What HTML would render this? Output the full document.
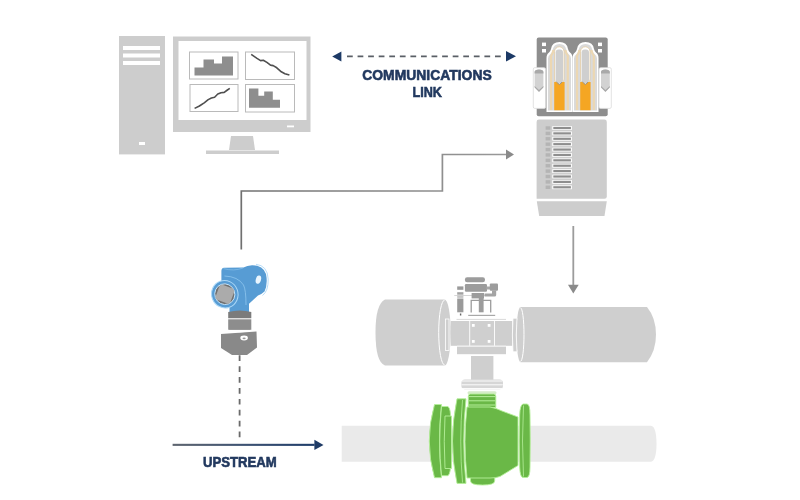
<!DOCTYPE html>
<html><head><meta charset="utf-8">
<style>
html,body{margin:0;padding:0;background:#fff;width:800px;height:500px;overflow:hidden}
svg{display:block;filter:blur(0.45px)}
text{font-family:"Liberation Sans",sans-serif;font-weight:bold}
</style></head>
<body>
<svg width="800" height="500" viewBox="0 0 800 500">
<rect width="800" height="500" fill="#fff"/>

<!-- ===== Computer tower ===== -->
<rect x="119" y="36" width="46" height="118.4" fill="#cdcdcd"/>
<rect x="123" y="46" width="37" height="4" fill="#fff"/>
<rect x="123" y="53.5" width="37" height="4" fill="#fff"/>
<rect x="123" y="61" width="37" height="4" fill="#fff"/>
<rect x="139" y="142" width="6" height="3" fill="#fff"/>

<!-- ===== Monitor ===== -->
<rect x="173" y="36.5" width="137.5" height="95.5" fill="#cdcdcd"/>
<rect x="178.5" y="41" width="128" height="79" fill="#fff"/>
<rect x="287" y="125.5" width="7" height="1.8" fill="#fff"/>
<polygon points="231,136 253,136 255,150 229,150" fill="#cdcdcd"/>
<rect x="206" y="150.5" width="73" height="3.5" fill="#cdcdcd"/>

<!-- chart panels -->
<g fill="none" stroke="#bababa" stroke-width="1">
<rect x="189.5" y="52" width="48.5" height="27"/>
<rect x="245.5" y="52" width="49" height="27.5"/>
<rect x="190" y="84.5" width="48" height="27"/>
<rect x="245.5" y="84.5" width="49" height="27.5"/>
</g>
<polygon fill="#8e8e8e" points="194.5,75.5 194.5,67.5 203.5,67.5 203.5,59.5 214,59.5 214,63.5 222,63.5 222,56.5 233,56.5 233,75.5"/>
<polygon fill="#8e8e8e" points="249,107.8 249,88.5 258.4,88.5 258.4,95.7 264.2,95.7 264.2,91.6 272.8,91.6 272.8,99.8 280,99.8 280,107.8"/>
<polyline fill="none" stroke="#4f4f4f" stroke-width="1.6" stroke-linejoin="round" points="251.2,54.3 257,58.4 260.6,60.6 263.3,60.2 266.9,62.4 270.5,65.1 273.2,65.6 276.8,67.8 281.3,71.8 284.9,73.7 289.4,75"/>
<polyline fill="none" stroke="#4f4f4f" stroke-width="1.6" stroke-linejoin="round" points="194.6,108.4 199.4,106 204.2,102.8 208.2,99.6 211.4,98 214.6,97.2 217.8,94 221,92.7 224.2,92.4 227.4,90 229.8,88.4"/>

<!-- ===== Communications link ===== -->
<line x1="347" y1="56.4" x2="501" y2="56.4" stroke="#5a5f66" stroke-width="1.7" stroke-dasharray="5.75,4.82"/>
<polygon points="332.2,56.5 341.4,51.4 341.4,61.6" fill="#1d3a66"/>
<polygon points="516,56.3 506,51 506,61.6" fill="#1d3a66"/>
<text x="427" y="79.6" text-anchor="middle" font-size="14.8" fill="#22395f" stroke="#22395f" stroke-width="0.6" textLength="129.5" lengthAdjust="spacingAndGlyphs">COMMUNICATIONS</text>
<text x="427.2" y="97.4" text-anchor="middle" font-size="14.8" fill="#22395f" stroke="#22395f" stroke-width="0.6" textLength="29.5" lengthAdjust="spacingAndGlyphs">LINK</text>

<!-- ===== Controller ===== -->
<rect x="536.7" y="37.6" width="71" height="78.6" rx="2" fill="#8e8e8e"/>
<rect x="542" y="42.6" width="4" height="3.5" fill="#fff"/>
<rect x="542" y="49" width="4" height="3.5" fill="#fff"/>
<rect x="598" y="42.6" width="4" height="3.5" fill="#fff"/>
<rect x="598" y="49" width="4" height="3.5" fill="#fff"/>
<!-- side tabs -->
<rect x="533.3" y="67.7" width="12.3" height="40.7" rx="1.5" fill="#fff" stroke="#dadada" stroke-width="0.8"/>
<path d="M534.6,72 Q534.6,69.4 539,69.4 Q543.4,69.4 543.4,72 V87 L539,91.5 L534.6,87Z" fill="#d2d2d2"/>
<path d="M534.6,72 Q534.6,69.4 539,69.4 Q543.4,69.4 543.4,72 V73.5 H534.6Z" fill="#a9a9a9"/>
<path d="M534.6,86 L539,90 L543.4,86 V87.5 L539,92 L534.6,87.5Z" fill="#a9a9a9"/>
<rect x="599" y="67.7" width="12.3" height="40.7" rx="1.5" fill="#fff" stroke="#dadada" stroke-width="0.8"/>
<path d="M601,72 Q601,69.4 605.4,69.4 Q609.8,69.4 609.8,72 V87 L605.4,91.5 L601,87Z" fill="#d2d2d2"/>
<path d="M601,72 Q601,69.4 605.4,69.4 Q609.8,69.4 609.8,72 V73.5 H601Z" fill="#a9a9a9"/>
<path d="M601,86 L605.4,90 L609.8,86 V87.5 L605.4,92 L601,87.5Z" fill="#a9a9a9"/>
<!-- modules -->
<path d="M546.50,112 V58 Q546.50,54 549.00,52.5 Q550.50,51 551.00,49 Q552.00,42 559.50,42 Q567.00,42 568.00,49 Q568.50,51 570.00,52.5 Q572.50,54 572.50,58 V112 Z" fill="#fff"/>
<path d="M548.00,110.5 V58.5 Q548.00,55.5 550.50,54 Q552.30,52.6 552.70,50 Q553.50,44 559.50,44 Q565.50,44 566.30,50 Q566.70,52.6 568.50,54 Q571.00,55.5 571.00,58.5 V110.5 Z" fill="#dadada"/>
<path d="M551.00,110 V56 Q553.00,53 553.50,50 M567.80,110 V56 Q565.80,53 565.30,50" fill="none" stroke="#ecd7b2" stroke-width="2.2"/>
<rect x="554.60" y="46.8" width="9.4" height="37" rx="4.7" fill="#fff" stroke="#e3c796" stroke-width="0.7"/>
<rect x="555.60" y="49.5" width="7.4" height="33.5" rx="3" fill="#cfcfcf"/>
<path d="M554.20,82 L556.50,82 L559.30,84.5 L562.10,82 L564.60,82 V110.2 H554.20Z" fill="#f5a623"/>
<path d="M556.50,82 L559.30,84.5 L562.10,82" fill="none" stroke="#8f8f8f" stroke-width="0.9"/>
<path d="M572.50,112 V58 Q572.50,54 575.00,52.5 Q576.50,51 577.00,49 Q578.00,42 585.50,42 Q593.00,42 594.00,49 Q594.50,51 596.00,52.5 Q598.50,54 598.50,58 V112 Z" fill="#fff"/>
<path d="M574.00,110.5 V58.5 Q574.00,55.5 576.50,54 Q578.30,52.6 578.70,50 Q579.50,44 585.50,44 Q591.50,44 592.30,50 Q592.70,52.6 594.50,54 Q597.00,55.5 597.00,58.5 V110.5 Z" fill="#dadada"/>
<path d="M577.00,110 V56 Q579.00,53 579.50,50 M593.80,110 V56 Q591.80,53 591.30,50" fill="none" stroke="#ecd7b2" stroke-width="2.2"/>
<rect x="580.60" y="46.8" width="9.4" height="37" rx="4.7" fill="#fff" stroke="#e3c796" stroke-width="0.7"/>
<rect x="581.60" y="49.5" width="7.4" height="33.5" rx="3" fill="#cfcfcf"/>
<path d="M580.20,82 L582.50,82 L585.30,84.5 L588.10,82 L590.60,82 V110.2 H580.20Z" fill="#f5a623"/>
<path d="M582.50,82 L585.30,84.5 L588.10,82" fill="none" stroke="#8f8f8f" stroke-width="0.9"/>
<!-- body -->
<path d="M536.6,198.8 V122 Q536.6,119.6 539,119.6 H604.4 Q606.8,119.6 606.8,122 V196.5 Q606.8,198.8 604.5,198.8 Z" fill="#cdcdcd"/>
<g id="rows"><rect x="545.6" y="126.30" width="4.8" height="3.4" fill="#b4b4b4"/><rect x="552.3" y="126.10" width="19.6" height="3.8" fill="#fff"/><rect x="553.3" y="126.90" width="17.6" height="2.2" fill="#8e8e8e"/><rect x="545.6" y="131.69" width="4.8" height="3.4" fill="#b4b4b4"/><rect x="552.3" y="131.49" width="19.6" height="3.8" fill="#fff"/><rect x="553.3" y="132.29" width="17.6" height="2.2" fill="#8e8e8e"/><rect x="545.6" y="137.08" width="4.8" height="3.4" fill="#b4b4b4"/><rect x="552.3" y="136.88" width="19.6" height="3.8" fill="#fff"/><rect x="553.3" y="137.68" width="17.6" height="2.2" fill="#8e8e8e"/><rect x="545.6" y="142.47" width="4.8" height="3.4" fill="#b4b4b4"/><rect x="552.3" y="142.27" width="19.6" height="3.8" fill="#fff"/><rect x="553.3" y="143.07" width="17.6" height="2.2" fill="#8e8e8e"/><rect x="545.6" y="147.86" width="4.8" height="3.4" fill="#b4b4b4"/><rect x="552.3" y="147.66" width="19.6" height="3.8" fill="#fff"/><rect x="553.3" y="148.46" width="17.6" height="2.2" fill="#8e8e8e"/><rect x="545.6" y="153.25" width="4.8" height="3.4" fill="#b4b4b4"/><rect x="552.3" y="153.05" width="19.6" height="3.8" fill="#fff"/><rect x="553.3" y="153.85" width="17.6" height="2.2" fill="#8e8e8e"/><rect x="545.6" y="158.64" width="4.8" height="3.4" fill="#b4b4b4"/><rect x="552.3" y="158.44" width="19.6" height="3.8" fill="#fff"/><rect x="553.3" y="159.24" width="17.6" height="2.2" fill="#8e8e8e"/><rect x="545.6" y="164.03" width="4.8" height="3.4" fill="#b4b4b4"/><rect x="552.3" y="163.83" width="19.6" height="3.8" fill="#fff"/><rect x="553.3" y="164.63" width="17.6" height="2.2" fill="#8e8e8e"/><rect x="545.6" y="169.42" width="4.8" height="3.4" fill="#b4b4b4"/><rect x="552.3" y="169.22" width="19.6" height="3.8" fill="#fff"/><rect x="553.3" y="170.02" width="17.6" height="2.2" fill="#8e8e8e"/><rect x="545.6" y="174.81" width="4.8" height="3.4" fill="#b4b4b4"/><rect x="552.3" y="174.61" width="19.6" height="3.8" fill="#fff"/><rect x="553.3" y="175.41" width="17.6" height="2.2" fill="#8e8e8e"/><rect x="545.6" y="180.20" width="4.8" height="3.4" fill="#b4b4b4"/><rect x="552.3" y="180.00" width="19.6" height="3.8" fill="#fff"/><rect x="553.3" y="180.80" width="17.6" height="2.2" fill="#8e8e8e"/><rect x="545.6" y="185.59" width="4.8" height="3.4" fill="#b4b4b4"/><rect x="552.3" y="185.39" width="19.6" height="3.8" fill="#fff"/><rect x="553.3" y="186.19" width="17.6" height="2.2" fill="#8e8e8e"/></g>
<polygon points="536.8,201.2 606.8,201.2 604.5,216 539.2,216" fill="#cdcdcd"/>

<!-- arrow down -->
<line x1="573.3" y1="226" x2="573.3" y2="286" stroke="#9c9c9c" stroke-width="1.8"/>
<polygon points="568,284.8 578.7,284.8 573.3,293.6" fill="#8a8a8a"/>

<!-- elbow connector -->
<defs><linearGradient id="eg" gradientUnits="userSpaceOnUse" x1="241" y1="0" x2="514" y2="0"><stop offset="0" stop-color="#707070"/><stop offset="1" stop-color="#9a9a9a"/></linearGradient></defs>
<polyline points="241.3,249.6 241.3,191 442.4,191 442.4,154.5 507,154.5" fill="none" stroke="url(#eg)" stroke-width="1.7"/>
<polygon points="506,149.6 514,154.5 506,159.4" fill="#8a8a8a"/>

<!-- ===== Pipe ===== -->
<path d="M341.7,425.8 H651 Q656.5,427 656.5,443.8 Q656.5,460.5 651,461.8 H341.7Z" fill="#eaeaea"/>

<!-- ===== Actuator ===== -->
<path d="M385,299.5 H444.7 A6,33 0 0 1 444.7,365.5 H385 Q375.5,362 375.5,332.5 Q375.5,304 385,299.5Z" fill="#cfcfcf"/>
<path d="M444.7,300 A6,32.5 0 0 0 444.7,365" fill="none" stroke="#fff" stroke-width="1"/>
<path d="M520.5,307 H647 Q656,318 656,334.6 Q656,351 647,362.2 H520.5 A4,27.6 0 0 1 520.5,307Z" fill="#cfcfcf"/>
<path d="M520.5,307.8 A3.5,26.8 0 0 1 520.5,361.4" fill="none" stroke="#fff" stroke-width="1"/>
<rect x="450.8" y="321" width="61.4" height="24.8" fill="#cfcfcf"/>
<line x1="456.5" y1="319.4" x2="506" y2="319.4" stroke="#d9d9d9" stroke-width="1"/>
<line x1="469.7" y1="321" x2="469.7" y2="345.8" stroke="#fff" stroke-width="0.9"/>
<line x1="494.5" y1="321" x2="494.5" y2="345.8" stroke="#fff" stroke-width="0.9"/>
<g fill="#fff">
<rect x="471.9" y="324" width="2.8" height="2.8"/>
<rect x="487.7" y="324" width="2.8" height="2.8"/>
<rect x="471.9" y="340" width="2.8" height="2.8"/>
<rect x="487.7" y="340" width="2.8" height="2.8"/>
</g>
<rect x="445.5" y="319" width="3.5" height="31.5" fill="#cfcfcf" stroke="#fff" stroke-width="0.8"/>
<path d="M517,318.2 H513 Q511.8,335 513,351.8 H517 Q515.5,335 517,318.2Z" fill="#cfcfcf" stroke="#fff" stroke-width="0.8"/>
<line x1="457" y1="346.2" x2="506" y2="346.2" stroke="#fff" stroke-width="0.8"/>
<rect x="457" y="346.6" width="49" height="7.6" fill="#cfcfcf"/>
<!-- solenoid -->
<line x1="454.3" y1="295.5" x2="493.2" y2="295.5" stroke="#d2d2d2" stroke-width="0.9"/>
<rect x="464.9" y="277.3" width="20.1" height="4.9" rx="2.2" fill="#9c9c9c"/>
<rect x="464.9" y="284" width="22.1" height="7.7" rx="1.2" fill="#9c9c9c"/>
<rect x="486.5" y="286.5" width="4" height="3" fill="#a8a8a8"/>
<rect x="489.8" y="283.5" width="8.2" height="7.2" rx="1" fill="#9c9c9c"/>
<path d="M492,290.5 H496.2 V295 Q496.2,296.6 494.6,296.6 H484.5 V293.5 H492Z" fill="#a4a4a4"/>
<rect x="457.2" y="286.4" width="6.2" height="3.4" fill="#9a9a9a"/>
<rect x="457.2" y="292.2" width="6.2" height="2.5" fill="#a2a2a2"/>
<rect x="457.2" y="295.5" width="6.2" height="2.4" fill="#c4c4c4"/>
<path d="M457.2,298.5 H463.4 V312.3 H457.2Z" fill="#9a9a9a"/>
<rect x="459.9" y="313.5" width="1.4" height="2" fill="#666"/>
<rect x="471.6" y="293" width="12.4" height="5.4" fill="#9c9c9c"/>
<path d="M471.2,312.5 V300.4 H490.7 V312.5" fill="none" stroke="#9c9c9c" stroke-width="1.3"/>
<rect x="478.8" y="298" width="4.8" height="14.3" fill="#9c9c9c"/>
<rect x="468.2" y="314.8" width="27" height="1.2" fill="#a8a8a8"/>
<!-- stem -->
<rect x="471" y="356" width="22.4" height="23.8" fill="#cfcfcf"/>
<rect x="461.4" y="379.6" width="41.6" height="9.6" rx="3.5" fill="#d6d6d6"/>
<path d="M462,381 H502.4 M461.6,384.8 H502.8 M462,388.5 H502.4" fill="none" stroke="#fff" stroke-width="0.9"/>
<rect x="467.5" y="391.2" width="29" height="3" rx="1.5" fill="#d5ecc8"/>

<!-- ===== Green valve ===== -->
<g fill="#6ab847" stroke="#b5ef9a" stroke-width="0.9">
<!-- neck -->
<path d="M468.3,396 Q468.3,394 470.5,394 H493.6 Q495.8,394 495.8,396 V407.5 H468.3Z"/>
<path d="M468.8,396.6 H495.3 M468.8,400.8 H495.3 M468.8,405 H495.3" fill="none" stroke-width="1"/>
<!-- bottom hump -->
<path d="M470.5,476 H494.7 V481 Q494.7,485 482.5,485 Q470.5,485 470.5,481Z"/>
<!-- body -->
<path d="M467,407 H490 Q496,408 502,411 L518,417 V465.5 L500,476.5 Q496,478 490,478 H467 Q463,441 467,407Z"/>
<!-- right flange -->
<path d="M523,404 Q520,405 519.7,415 Q518.8,441 519.7,467 Q520,477 523,477.5 H527 Q530,477 530,467 Q530.5,441 530,415 Q530,404 527,404Z"/>
<path d="M523.5,405.5 Q521.5,441 523.5,476.5" fill="none" stroke-width="0.8"/>
<!-- left outer flange -->
<path d="M434.5,404.5 Q424,441 434.5,477.7 H441.5 Q437.5,441 441.5,404.5Z"/>
<path d="M441.5,406.5 Q438,441 441.5,475.7 H448 Q451,473 450.5,462 Q449,441 450.5,420 Q451,409 448,406.5Z"/>
<path d="M445,416 H451.5 V468.5 H445 Q443.5,441 445,416Z"/>
<!-- big flange -->
<path d="M457,398.8 Q448,441 457,483.4 H466 Q461.5,441 466,398.8Z"/>
<path d="M462.5,400 Q459,441 462.5,482.5" fill="none" stroke-width="0.8"/>
</g>

<!-- ===== Transmitter ===== -->
<g>
<path d="M229.5,312 V306 L221.4,281 V271 Q221.4,268 224,267.8 L243.5,267.6 Q247,265.5 252,265.2 Q263,265 266,274 Q268,284 264.5,291.5 Q262,294 258,295.5 L249,303.7 V312.5 Q239,315 229.5,312Z" fill="#579cd4"/>
<path d="M256,264.3 Q267.5,265.5 268.2,279 Q268.5,291 262.5,295.5" fill="none" stroke="#a6d4f6" stroke-width="0.8"/>
<path d="M224.5,276 Q238,276.5 243.5,285 Q246,290 246,305" fill="none" stroke="#8fc6ef" stroke-width="0.8"/>
<path d="M223.5,268.6 Q234,271.5 243,268" fill="none" stroke="#8fc6ef" stroke-width="0.6"/>
<ellipse cx="258.4" cy="279.6" rx="2.6" ry="4.2" fill="#e9f5fe" transform="rotate(15 258.4 279.6)"/>
<ellipse cx="224.8" cy="294.2" rx="13.2" ry="13.8" fill="#579cd4" stroke="#acd8f7" stroke-width="1" transform="rotate(-20 224.8 294.2)"/>
<ellipse cx="224.8" cy="294.2" rx="10" ry="10.4" fill="#707070" stroke="#c3e3fa" stroke-width="0.9" transform="rotate(-20 224.8 294.2)"/>
<rect x="217" y="286.2" width="15.8" height="16" rx="3.2" fill="#ababab" transform="rotate(20 224.9 294.2)"/>
</g>
<path d="M228.2,312 Q239.8,309 251.3,312 V318.2 H228.2Z" fill="#7b7b7b"/>
<rect x="228.2" y="319.3" width="23.1" height="10.6" fill="#8d8d8d"/>
<path d="M221,334 L256.5,331.5 L257,347.5 L247,355 L232,355 L221,348 Z" fill="#898989"/>
<path d="M228.2,330.2 Q239.8,333.5 251.3,330.2" fill="none" stroke="#fff" stroke-width="0.9"/>
<ellipse cx="244.1" cy="338" rx="3.8" ry="2.4" fill="#fff"/>
<ellipse cx="244.1" cy="338.3" rx="1.6" ry="0.9" fill="#999"/>
<line x1="239.6" y1="355.3" x2="239.6" y2="438" stroke="#6a6a6a" stroke-width="1.8" stroke-dasharray="5.7,5.2"/>

<!-- upstream -->
<defs><linearGradient id="ug" x1="0" x2="1"><stop offset="0" stop-color="#5f6670"/><stop offset="0.5" stop-color="#3e5373"/><stop offset="1" stop-color="#1f3d6a"/></linearGradient></defs>
<rect x="172.6" y="443.8" width="142" height="2.1" fill="url(#ug)"/>
<polygon points="314.4,439.7 323.5,444.9 314.4,450" fill="#1f3b66"/>
<text x="203" y="466.7" font-size="14.6" fill="#22395f" stroke="#22395f" stroke-width="0.6" textLength="73.7" lengthAdjust="spacingAndGlyphs">UPSTREAM</text>
</svg>
</body></html>
